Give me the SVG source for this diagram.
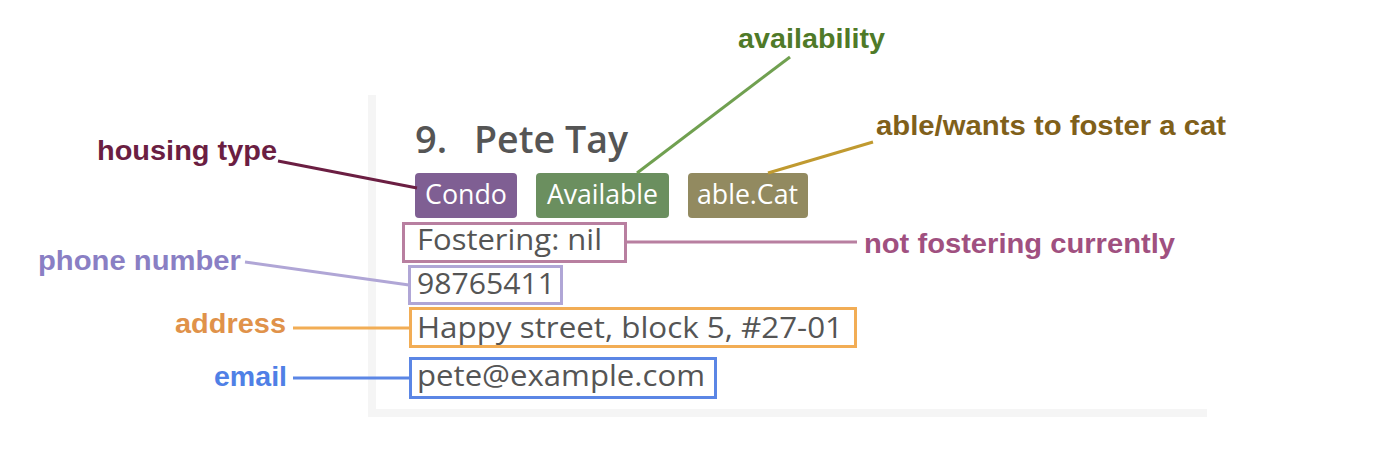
<svg xmlns="http://www.w3.org/2000/svg" width="1380" height="452" viewBox="0 0 1380 452">
<style>
.lbl{font-family:"Liberation Sans",Arial,sans-serif;font-weight:bold;font-size:28px}
.card{font-family:"Open Sans","Noto Sans",sans-serif;fill:#555555}
.tagt{font-family:"Open Sans","Noto Sans",sans-serif;font-size:28px;fill:#ffffff}
.box{fill:none;stroke-width:3}
.conn line{stroke-width:3;fill:none}
</style>
<rect width="1380" height="452" fill="#ffffff"/>
<g id="card">
<rect x="368" y="95" width="8" height="322" fill="#f5f5f5"/>
<rect x="368" y="409" width="839" height="8" fill="#f5f5f5"/>
<text class="card" x="415" y="153" font-size="38" font-weight="600">9.</text>
<text class="card" x="474" y="153" font-size="38" font-weight="600" textLength="154" lengthAdjust="spacingAndGlyphs">Pete Tay</text>
</g>
<g id="tag-condo">
<rect x="415" y="173" width="102" height="45" rx="4" fill="#7f5f93"/>
<text class="tagt" x="425" y="204" textLength="82" lengthAdjust="spacingAndGlyphs">Condo</text>
</g>
<g id="tag-available">
<rect x="536" y="173" width="133" height="45" rx="4" fill="#6b8f5f"/>
<text class="tagt" x="547" y="204" textLength="111" lengthAdjust="spacingAndGlyphs">Available</text>
</g>
<g id="tag-cat">
<rect x="688" y="173" width="120" height="45" rx="4" fill="#928a60"/>
<text class="tagt" x="697" y="204" textLength="101" lengthAdjust="spacingAndGlyphs">able.Cat</text>
</g>
<g id="fostering">
<rect class="box" x="403.5" y="223.5" width="222" height="38" stroke="#b87fa0"/>
<text class="card" x="417" y="250" font-size="29" textLength="185" lengthAdjust="spacingAndGlyphs">Fostering: nil</text>
</g>
<g id="phone">
<rect class="box" x="409.5" y="266.5" width="152" height="37" stroke="#b0a6d6"/>
<text class="card" x="417" y="294" font-size="29" textLength="138" lengthAdjust="spacingAndGlyphs">98765411</text>
</g>
<g id="address">
<rect class="box" x="410.5" y="308.5" width="445" height="38" stroke="#f2ad55"/>
<text class="card" x="417" y="338" font-size="29" textLength="426" lengthAdjust="spacingAndGlyphs">Happy street, block 5, #27-01</text>
</g>
<g id="email">
<rect class="box" x="410.5" y="358.5" width="305" height="39" stroke="#5b86e5"/>
<text class="card" x="417" y="386" font-size="29" textLength="288" lengthAdjust="spacingAndGlyphs">pete@example.com</text>
</g>
<g id="labels">
<text class="lbl" x="97" y="160" fill="#6b1e42" textLength="180" lengthAdjust="spacingAndGlyphs">housing type</text>
<text class="lbl" x="738" y="48" fill="#4f7a28" textLength="147" lengthAdjust="spacingAndGlyphs">availability</text>
<text class="lbl" x="876" y="135" fill="#80601a" textLength="350" lengthAdjust="spacingAndGlyphs">able/wants to foster a cat</text>
<text class="lbl" x="864" y="253" fill="#a05080" textLength="311" lengthAdjust="spacingAndGlyphs">not fostering currently</text>
<text class="lbl" x="38" y="270" fill="#8a7fc4" textLength="203" lengthAdjust="spacingAndGlyphs">phone number</text>
<text class="lbl" x="175" y="333" fill="#e0924a" textLength="111" lengthAdjust="spacingAndGlyphs">address</text>
<text class="lbl" x="214" y="386" fill="#4f80e6" textLength="73" lengthAdjust="spacingAndGlyphs">email</text>
</g>
<g id="connectors" class="conn">
<line x1="278" y1="161" x2="417" y2="188" stroke="#6b1e42"/>
<line x1="790" y1="57" x2="637" y2="173" stroke="#70a050"/>
<line x1="873" y1="142" x2="768" y2="173" stroke="#c09a30"/>
<line x1="627" y1="242" x2="857" y2="242" stroke="#b87fa0"/>
<line x1="245" y1="262" x2="409" y2="285" stroke="#b0a6d6"/>
<line x1="293" y1="328" x2="409" y2="328" stroke="#f2ad55"/>
<line x1="293" y1="378" x2="409" y2="378" stroke="#5b86e5"/>
</g>
</svg>
